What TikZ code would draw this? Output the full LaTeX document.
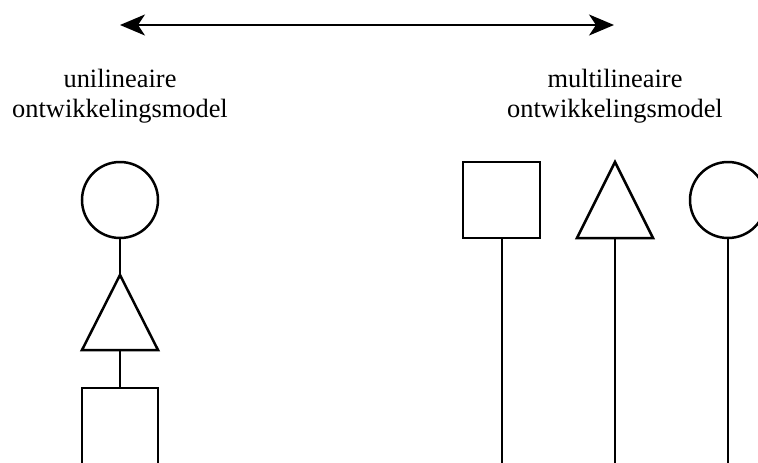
\documentclass[tikz,border=0pt]{standalone}
\usepackage{fontspec}
\setmainfont{Liberation Serif}
\usetikzlibrary{arrows.meta}
\begin{document}
\begin{tikzpicture}[x=1pt,y=-1pt,
  shape line/.style={line width=2.5pt, draw=black},
  link/.style={line width=2.5pt, draw=black},
  label text/.style={align=center, font=\fontsize{26.4}{30}\selectfont, inner sep=0pt, anchor=base}]
\useasboundingbox (0,0) rectangle (758,463);
\clip (0,0) rectangle (758,463);
% arrow
\coordinate (aL) at (120,25);
\coordinate (aR) at (614,25);
\draw[line width=2.3pt, {Stealth[length=25pt,width=21pt,inset=7pt]}-{Stealth[length=25pt,width=21pt,inset=7pt]}] (aL) -- (aR);
% labels
\node[label text] (t1a) at (120,87) {unilineaire};
\node[label text] (t1b) at (120,117) {ontwikkelingsmodel};
\node[label text] (t2a) at (615,87) {multilineaire};
\node[label text] (t2b) at (615,117) {ontwikkelingsmodel};
% left column
\node[shape line, circle, minimum size=76pt, inner sep=0pt] (lc) at (120,200) {};
\coordinate (ltA) at (120,275);
\coordinate (ltL) at (82,350);
\coordinate (ltR) at (158,350);
\draw[shape line, line join=miter] (ltA) -- (ltR) -- (ltL) -- cycle;
\coordinate (ltB) at (120,350);
\draw[shape line] (82,388) rectangle (158,464);
\coordinate (lsT) at (120,388);
\draw[link] (lc.south) -- (ltA);
\draw[link] (ltB) -- (lsT);
% right column
\draw[shape line] (463,162) rectangle (540,238);
\coordinate (rsB) at (502,238);
\coordinate (rsE) at (502,470);
\draw[link] (rsB) -- (rsE);
\coordinate (rtA) at (615,162);
\coordinate (rtL) at (577,238);
\coordinate (rtR) at (653,238);
\draw[shape line, line join=miter] (rtA) -- (rtR) -- (rtL) -- cycle;
\coordinate (rtB) at (615,238);
\coordinate (rtE) at (615,470);
\draw[link] (rtB) -- (rtE);
\node[shape line, circle, minimum size=76pt, inner sep=0pt] (rc) at (728,200) {};
\coordinate (rcE) at (728,470);
\draw[link] (rc.south) -- (rcE);
\end{tikzpicture}
\end{document}
